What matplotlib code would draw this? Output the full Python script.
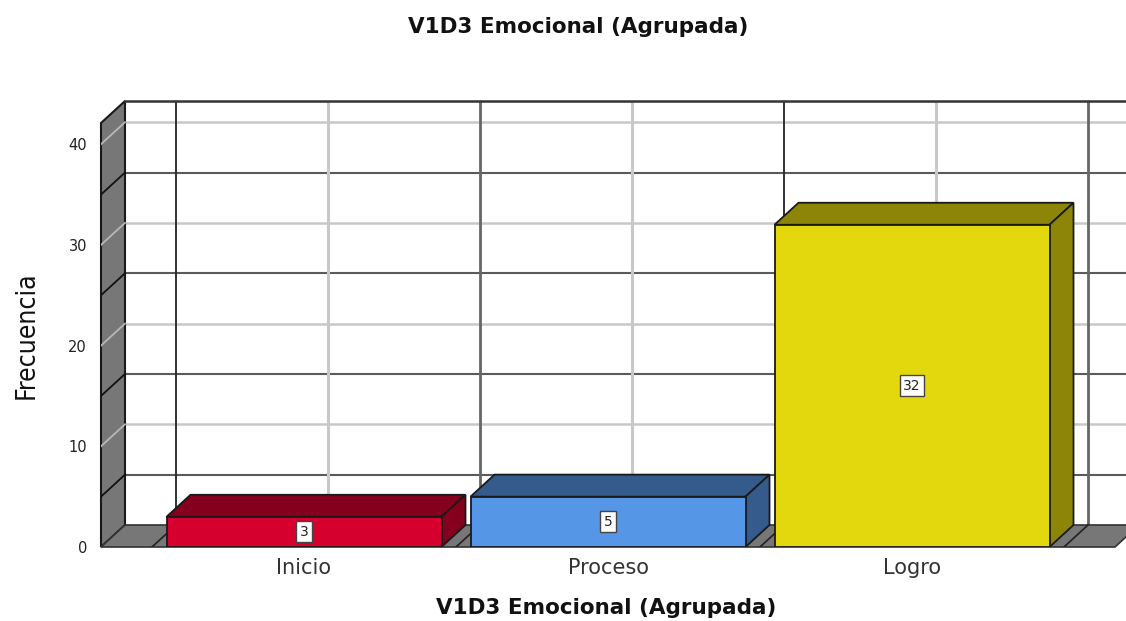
import matplotlib
matplotlib.use('Agg')
import matplotlib.pyplot as plt
from matplotlib.patches import Polygon

# values
title = 'V1D3 Emocional (Agrupada)'
categories = ['Inicio', 'Proceso', 'Logro']
freq = [3, 5, 32]
yticks = [0, 10, 20, 30, 40]
front_colors = ['#d5002d', '#5596e6', '#e3d80d']
top_colors = ['#85001c', '#345b8c', '#8c8508']

W, H = 1126, 621
PX_X = 304.0            # pixels per category
PX_Y = 10.07            # pixels per unit of frequency
dx = 24 / PX_X          # 3d depth in data units
dy = 22 / PX_Y
bar_w = 275 / PX_X
x_left = (101 - 304) / PX_X
x_right = (W - 304) / PX_X
floor_right = (1115 - 304) / PX_X
y_top = (547 - 101) / PX_Y

fig = plt.figure(figsize=(W / 100, H / 100), dpi=100)
ax = fig.add_axes([101 / W, 1 - 547 / H, (W - 101) / W, (547 - 101) / H])
ax.set_xlim(x_left, x_right)
ax.set_ylim(0, y_top)
for s in ax.spines.values():
    s.set_visible(False)

GRAY = '#777777'
EDGE = '#1a1a1a'

# back wall grid, horizontal
for v in range(5, 45, 5):
    light = v % 10 == 0
    c = '#c8c8c8' if light else '#5a5a5a'
    ax.plot([x_left + dx, x_right], [v + dy, v + dy], color=c, lw=1.8 if light else 1.5, zorder=1)

# back wall grid, vertical
for i in range(4):
    xg = i - 0.5 + dx
    dark = '#222222' if i % 2 == 0 else '#666666'
    ax.plot([xg, xg], [dy, y_top], color=dark, lw=1.3 if i % 2 == 0 else 2.0, zorder=1.5)
    if i < 3:
        ax.plot([i + dx, i + dx], [dy, y_top], color='#c8c8c8', lw=2.2, zorder=1)

# left wall and floor
ax.add_patch(Polygon([(x_left, 0), (x_left + dx, dy), (x_left + dx, y_top), (x_left, y_top - dy)],
                     fc=GRAY, ec=EDGE, lw=1.5, zorder=2, clip_on=False))
ax.add_patch(Polygon([(x_left, 0), (floor_right, 0), (floor_right + dx, dy), (x_left + dx, dy)],
                     fc=GRAY, ec='#333333', lw=1.2, zorder=2, clip_on=False))
ax.plot([x_left + dx, x_right], [y_top, y_top], color='#333333', lw=1.8, zorder=3, clip_on=False)

# lines running across the wall and the floor
for v in range(5, 45, 5):
    c = '#b8b8b8' if v % 10 == 0 else '#111111'
    ax.plot([x_left, x_left + dx], [v, v + dy], color=c, lw=1.3, zorder=2.5)
for i in range(4):
    ax.plot([i - 0.5, i - 0.5 + dx], [0, dy], color='#222222', lw=1.2, zorder=2.5)
    if i < 3:
        ax.plot([i, i + dx], [0, dy], color='#bbbbbb', lw=1.0, zorder=2.2)

# bars
for i, v in enumerate(freq):
    x0, x1 = i - bar_w / 2, i + bar_w / 2
    ax.add_patch(Polygon([(x0, v), (x1, v), (x1 + dx, v + dy), (x0 + dx, v + dy)],
                         fc=top_colors[i], ec=EDGE, lw=1.3, zorder=4))
    ax.add_patch(Polygon([(x1, 0), (x1 + dx, dy), (x1 + dx, v + dy), (x1, v)],
                         fc=top_colors[i], ec=EDGE, lw=1.3, zorder=4))
    ax.add_patch(Polygon([(x0, 0), (x1, 0), (x1, v), (x0, v)],
                         fc=front_colors[i], ec=EDGE, lw=1.3, zorder=5))
    ax.text(i, v / 2, str(v), ha='center', va='center', fontsize=10, color='#222222', zorder=6,
            bbox=dict(boxstyle='square,pad=0.25', fc='white', ec='#444444', lw=1))

ax.set_xticks(range(len(categories)))
ax.set_xticklabels(categories, fontsize=15, color='#333333')
ax.set_yticks(yticks)
ax.set_yticklabels(yticks, fontsize=10.5, color='#222222')
ax.tick_params(axis='both', length=0)
ax.tick_params(axis='x', pad=8)
ax.tick_params(axis='y', pad=10)

fig.text(578 / W, 1 - 27 / H, title, ha='center', va='center', fontsize=15.5, fontweight='bold', color='#111111')
fig.text(606 / W, 1 - 608 / H, title, ha='center', va='center', fontsize=15.5, fontweight='bold', color='#111111')
fig.text(27 / W, 1 - 335 / H, 'Frecuencia', ha='center', va='center', rotation=90, fontsize=19,
         family='Liberation Sans Narrow' if False else 'DejaVu Sans', stretch='condensed', color='#111111')

fig.savefig('out.png', dpi=100)
